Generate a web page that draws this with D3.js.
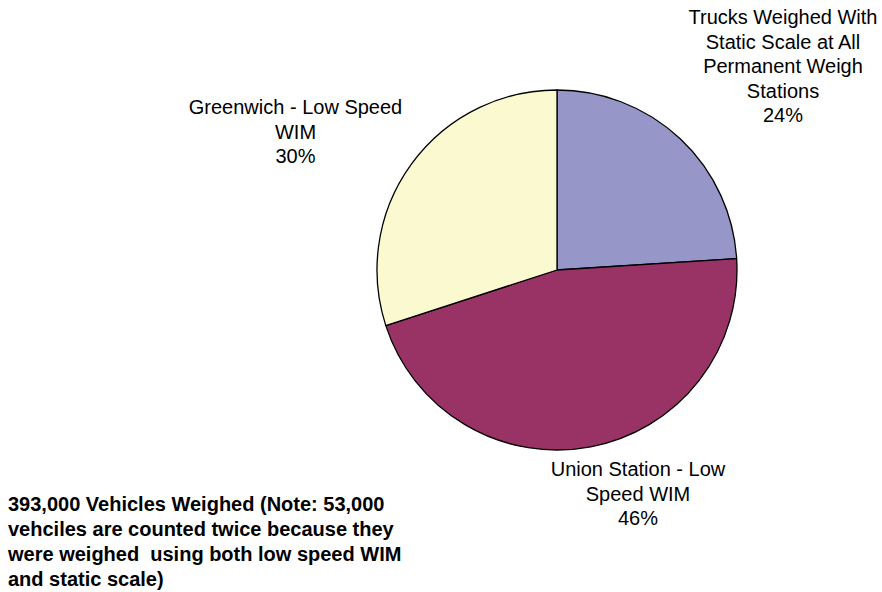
<!DOCTYPE html>
<html>
<head>
<meta charset="utf-8">
<script src="https://cdn.jsdelivr.net/npm/d3@7/dist/d3.min.js"></script>
<style>
  html, body { margin: 0; padding: 0; background: #ffffff; }
  svg { display: block; }
  text { font-family: "Liberation Sans", Arial, sans-serif; fill: #000; }
</style>
</head>
<body>
<script>
// ---- data ----
const categories = [
  "Trucks Weighed With Static Scale at All Permanent Weigh Stations",
  "Union Station - Low Speed WIM",
  "Greenwich - Low Speed WIM"
];
const values = [24, 46, 30];
const labelLines = [
  ["Trucks Weighed With", "Static Scale at All", "Permanent Weigh", "Stations"],
  ["Union Station - Low", "Speed WIM"],
  ["Greenwich - Low Speed", "WIM"]
];
const noteLines = [
  "393,000 Vehicles Weighed (Note: 53,000",
  "vehciles are counted twice because they",
  "were weighed  using both low speed WIM",
  "and static scale)"
];

// ---- layout / style ----
const W = 882, H = 592;
const cx = 557, cy = 270, R = 180;
const colors = ["#9696c8", "#993366", "#fbf9d0"];
const labelPos = [ {x: 783, y: 24}, {x: 638, y: 476}, {x: 295.5, y: 114} ];
const lineH = 24.5;

const svg = d3.select("body").append("svg").attr("width", W).attr("height", H);

const pie = d3.pie().sort(null).value(d => d)(values);
const arc = d3.arc().innerRadius(0).outerRadius(R);

const g = svg.append("g").attr("transform", `translate(${cx},${cy})`);
g.selectAll("path.slice").data(pie).join("path")
  .attr("class", "slice")
  .attr("d", arc)
  .attr("fill", (d, i) => colors[i])
  .attr("stroke", "#000")
  .attr("stroke-width", 1.3)
  .attr("stroke-linejoin", "round");

const fmt = d3.format(".0%");
const total = d3.sum(values);
labelPos.forEach((p, i) => {
  const t = svg.append("text")
    .attr("text-anchor", "middle")
    .attr("font-size", 20)
    .attr("x", p.x).attr("y", p.y);
  const lines = labelLines[i].concat([fmt(values[i] / total)]);
  lines.forEach((ln, j) => {
    t.append("tspan").attr("x", p.x).attr("dy", j === 0 ? 0 : lineH).text(ln);
  });
});

const note = svg.append("text")
  .attr("font-size", 20)
  .attr("font-weight", "bold")
  .attr("x", 8).attr("y", 510.5)
  .attr("xml:space", "preserve")
  .style("white-space", "pre");
noteLines.forEach((ln, j) => {
  note.append("tspan").attr("x", 8).attr("dy", j === 0 ? 0 : 25.3).text(ln);
});
</script>
</body>
</html>
